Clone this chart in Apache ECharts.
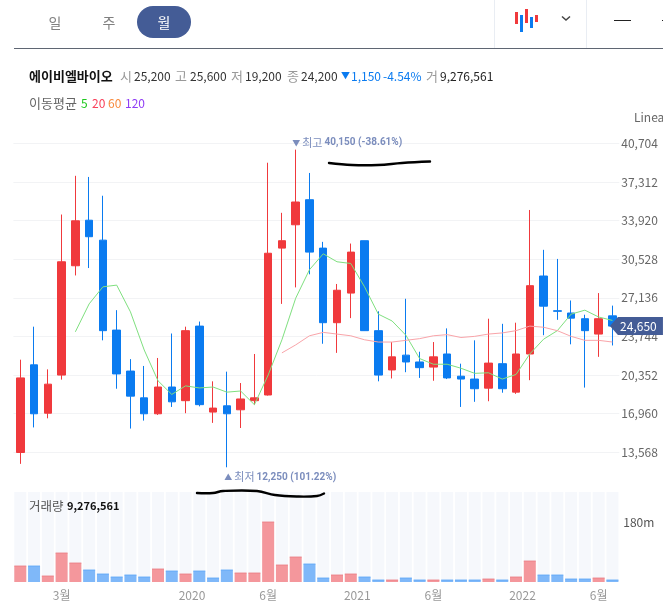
<!DOCTYPE html>
<html>
<head>
<meta charset="utf-8">
<style>
body { margin: 0; background: #fff; }
#chart { width: 663px; height: 612px; }
</style>
<script src="https://cdn.jsdelivr.net/npm/echarts@6/dist/echarts.min.js"></script>
</head>
<body>
<div id="chart"></div>
<script>
var X_LABELS = ['','','','3월','','','','','','','','','2020','','','','','','6월','','','','','',
	'2021','','','','','','6월','','','','','','2022','','','','','','6월',''];

var OPENS = [13550,21250,17000,20350,29950,33950,32200,24300,20700,18350,16950,19300,18100,24650,17100,17650,17300,18100,18600,31500,33550,
	35750,31500,24950,27550,32150,24250,20800,22100,21500,21050,22200,20250,20000,19200,21350,18850,22200,29050,26000,25800,25300,23950,25550];
var CLOSES = [20100,16950,19550,30300,33900,32500,24250,20450,18500,16950,19300,18000,24250,17750,17450,16950,18250,18350,31050,32150,35550,
	31150,24950,27800,31150,24250,20350,21950,21500,21000,21950,20100,20000,19150,21400,19150,22200,28200,26400,25950,25350,24250,25300,24650];
var HIGHS = [21700,24600,20850,34450,37850,37750,36100,26050,21750,21150,21850,24000,24600,25050,19800,20650,19650,22200,39000,34600,40150,
	38100,32050,28350,31900,32150,25950,23250,27050,22400,23250,24450,21350,23400,25300,24850,24950,34850,31350,30550,26900,25650,27550,26450];
var LOWS = [12550,15750,16550,19950,29100,29750,23400,19150,15650,16350,16850,17550,17000,17600,16150,12250,15700,17750,18550,26600,28050,
	29200,23100,22300,25350,24250,19800,20050,20600,20100,19850,20000,17550,18000,18050,18800,18700,19900,23850,25200,23050,19250,21950,22950];

// 5 이평은 5번째 봉부터, 20 이평은 20번째 봉부터
var MA5 = [24150,26600,28100,28250,25900,22550,19850,18650,19400,19220,19300,18850,18950,17750,20350,23450,27100,29600,31000,30300,
	30150,28100,25700,25100,23850,21800,21300,21300,20950,20500,20550,20000,20400,22200,23500,24250,25700,26050,25450,25150];
var MA20 = [22300,23000,23800,24100,23950,23800,23450,23250,23250,23400,23550,23800,23900,23650,23750,23950,24050,24250,24650,24550,24250,23750,23400,23400,23250];

var VOLUMES = [48,48,18,87,57,36,24,15,21,15,39,33,24,33,12,36,27,27,180,51,75,54,12,
	21,24,15,6,6,12,6,6,6,6,6,9,6,15,63,21,21,9,9,12,6];
var VOLUME_UP = [1,0,1,1,1,0,0,0,0,0,1,0,1,0,0,0,1,1,1,1,1,0,0,
	1,1,0,0,1,0,0,1,0,0,0,1,0,1,1,0,0,0,0,1,0];

var PRICE_TICKS = [40704,37312,33920,30528,27136,23744,20352,16960,13568];
var LAST_PRICE = 24650;

var RED = '#f0393c', BLUE = '#0a7bf0', NAVY = '#445c96', MARK = '#7b8dbd';
var FONT = '"Noto Sans CJK KR", sans-serif';
var MARK_FONT = 'Roboto, "Noto Sans CJK KR", sans-serif';

var candles = [];
for (var i = 0; i < OPENS.length; i++) {
	candles.push([OPENS[i], CLOSES[i], LOWS[i], HIGHS[i]]);
}

var volumeBars = VOLUMES.map(function(v, i) {
	return { value: v, itemStyle: { color: VOLUME_UP[i] ? '#f4979c' : '#7fb8f9' } };
});

var volumeCaps = VOLUMES.map(function(v, i) {
	return { value: v, itemStyle: { color: VOLUME_UP[i] ? '#ec7b82' : '#5aa5f7' } };
});

function txt(x, y, str, color, weight, size, align) {
	return {
		type: 'text', x: x, y: y, z: 100,
		style: { text: str, fill: color, font: (weight || 'normal') + ' ' + (size || 12) + 'px ' + FONT, verticalAlign: 'middle', align: align || 'left' }
	};
}

function box(x, y, w, h, color) {
	return { type: 'rect', shape: { x: x, y: y, width: w, height: h }, style: { fill: color } };
}

function pen(points) {
	return {
		type: 'polyline', z: 50,
		shape: { points: points, smooth: 0.4 },
		style: { stroke: '#000', lineWidth: 2.4, lineCap: 'round', fill: null }
	};
}

function markRich() {
	return {
		t: { color: MARK, fontSize: 8, fontFamily: FONT, padding: [0, 2, 0, 0] },
		n: { color: MARK, fontSize: 11, fontFamily: FONT, padding: [0, 2, 0, 0] },
		b: { color: MARK, fontSize: 10, fontWeight: 'bold', fontFamily: MARK_FONT }
	};
}

var graphics = [
	box(14, 48, 649, 1, '#5f6673'),
	box(494, 0, 1, 48, '#e9edf3'),
	box(586, 0, 1, 48, '#e9edf3'),
	{ type: 'rect', shape: { x: 137, y: 6, width: 54, height: 32, r: 16 }, style: { fill: NAVY } },
	txt(55, 23, '일', '#808080', 'normal', 14, 'center'),
	txt(109, 23, '주', '#808080', 'normal', 14, 'center'),
	txt(164, 23, '월', '#fff', 'normal', 14, 'center'),
	// 차트 종류 아이콘
	box(515, 12, 3, 12, RED), box(520, 15, 3, 17, BLUE), box(525, 9, 3, 14, RED), box(530, 17, 3, 11, BLUE), box(535, 15, 3, 7, RED),
	{ type: 'polyline', shape: { points: [[562, 16.5], [566, 20], [570, 16.5]] }, style: { stroke: '#444', lineWidth: 1.5, fill: null } },
	box(614, 20, 17, 1, '#222'),
	box(662, 20, 1, 1, '#222'),
	// 시세 정보
	txt(29, 76, '에이비엘바이오', '#111', 'bold', 13),
	txt(120, 76, '시', '#999', 'normal', 13), txt(134, 76, '25,200', '#333'),
	txt(175, 76, '고', '#999', 'normal', 13), txt(190, 76, '25,600', '#333'),
	txt(231, 76, '저', '#999', 'normal', 13), txt(245, 76, '19,200', '#333'),
	txt(287, 76, '종', '#999', 'normal', 13), txt(301, 76, '24,200', '#333'),
	txt(341, 76, '▼', BLUE, 'normal', 9), txt(351, 76, '1,150', BLUE), txt(383, 76, '-4.54%', BLUE),
	txt(426, 76, '거', '#999', 'normal', 13), txt(440, 76, '9,276,561', '#222'),
	txt(29, 103, '이동평균', '#666', 'normal', 13),
	txt(81, 103, '5', '#1ec81e'), txt(92, 103, '20', '#f9405a'), txt(108, 103, '60', '#f98a3c'), txt(125, 103, '120', '#8f3cf5'),
	txt(634, 117, 'Linear', '#666'),
	txt(29, 506, '거래량', '#555', 'normal', 12.5), txt(67, 506, '9,276,561', '#111', 'bold', 11),
	// 손으로 그은 밑줄
	pen([[329, 163], [352, 165], [378, 165], [402, 163], [430, 161.5]]),
	pen([[197, 493], [213, 493], [223, 491], [257, 491], [275, 495], [297, 496.5], [317, 496], [324, 493.5]])
];

var option = {
	animation: false,
	backgroundColor: '#fff',
	textStyle: { fontFamily: FONT },
	graphic: graphics,
	grid: [
		{ left: 13.4, width: 605.9, top: 104.7, height: 386.2 },
		{ left: 13.4, width: 605.9, top: 492, height: 90 }
	],
	xAxis: [
		{ type: 'category', gridIndex: 0, data: X_LABELS, axisLine: { show: false }, axisTick: { show: false }, axisLabel: { show: false } },
		{
			type: 'category', gridIndex: 1, data: X_LABELS,
			axisLine: { show: false }, axisTick: { show: false },
			axisLabel: {
				interval: 0, margin: 7, color: '#999', fontSize: 12, fontFamily: FONT,
				formatter: function(v) {
					return /^\d+$/.test(v) ? '{year|' + v + '}' : v;
				},
				rich: { year: { color: '#999', fontSize: 12, fontFamily: FONT, padding: [0, 0, 0, 13] } }
			}
		}
	],
	yAxis: [
		{
			type: 'value', gridIndex: 0, position: 'right', scale: true,
			min: 10176, max: 44096, interval: 3392,
			axisLine: { show: false }, axisTick: { show: false },
			axisLabel: {
				margin: 2, color: '#666', fontSize: 12, fontFamily: FONT,
				formatter: function(v) {
					return PRICE_TICKS.indexOf(v) >= 0 ? echarts.format.addCommas(v) : '';
				}
			},
			splitLine: { showMinLine: false, showMaxLine: false, lineStyle: { color: '#f2f3f5', width: 1 } }
		},
		{
			type: 'value', gridIndex: 1, position: 'right',
			min: 0, max: 270, interval: 180,
			axisLine: { show: false }, axisTick: { show: false }, splitLine: { show: false },
			axisLabel: {
				margin: 4, color: '#555', fontSize: 12, fontFamily: FONT,
				formatter: function(v) { return v == 180 ? '180m' : ''; }
			}
		}
	],
	series: [
		{
			type: 'candlestick', xAxisIndex: 0, yAxisIndex: 0, data: candles, barWidth: 8,
			itemStyle: { color: RED, color0: BLUE, borderColor: RED, borderColor0: BLUE, borderWidth: 1 },
			markPoint: {
				animation: false,
				data: [
					{
						coord: [20, 40150], symbol: 'circle', symbolSize: 1, itemStyle: { color: 'rgba(0,0,0,0)' },
						label: {
							show: true, position: 'right', distance: 0, offset: [-4, -7],
							formatter: '{t|▼}{n|최고}{b|40,150 (-38.61%)}',
							rich: markRich()
						}
					},
					{
						coord: [15, 12250], symbol: 'circle', symbolSize: 1, itemStyle: { color: 'rgba(0,0,0,0)' },
						label: {
							show: true, position: 'right', distance: 0, offset: [-3, 10],
							formatter: '{t|▲}{n|최저}{b|12,250 (101.22%)}',
							rich: markRich()
						}
					},
					{
						coord: [43, LAST_PRICE],
						symbol: 'path://M0,9 L8,0 L53,0 L53,18 L8,18 Z',
						symbolSize: [53, 18], symbolOffset: [24, 0],
						itemStyle: { color: NAVY },
						label: {
							show: true, position: 'inside', offset: [2, 0], color: '#fff', fontSize: 12, fontFamily: FONT,
							formatter: echarts.format.addCommas(LAST_PRICE)
						}
					}
				]
			}
		},
		{
			type: 'line', xAxisIndex: 0, yAxisIndex: 0, showSymbol: false, symbol: 'none',
			data: new Array(4).fill(null).concat(MA5),
			lineStyle: { color: '#7fe07f', width: 1 }, z: 3
		},
		{
			type: 'line', xAxisIndex: 0, yAxisIndex: 0, showSymbol: false, symbol: 'none',
			data: new Array(19).fill(null).concat(MA20),
			lineStyle: { color: '#f9a4a9', width: 1 }, z: 3
		},
		{
			type: 'bar', xAxisIndex: 1, yAxisIndex: 1, data: volumeBars, barWidth: 12,
			showBackground: true, backgroundStyle: { color: '#f6f8fc' }
		},
		{
			type: 'scatter', xAxisIndex: 1, yAxisIndex: 1, data: volumeCaps,
			symbol: 'rect', symbolSize: [12, 1], z: 3, silent: true
		}
	]
};

var myChart = echarts.init(document.getElementById('chart'));
myChart.setOption(option);
</script>
</body>
</html>
